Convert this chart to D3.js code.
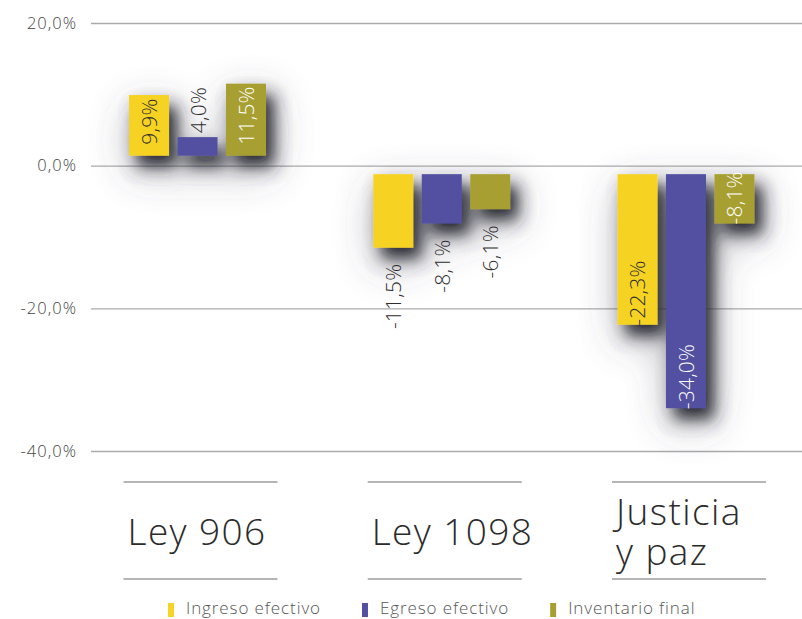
<!DOCTYPE html>
<html>
<head>
<meta charset="utf-8">
<script src="https://cdn.jsdelivr.net/npm/d3@7"></script>
<style>
  html, body { margin: 0; padding: 0; background: #fff; }
  svg { display: block; font-family: "Open Sans", Lato, sans-serif; }
</style>
</head>
<body>
<div id="chart"></div>
<script>
// data
const categories = ["Ley 906", "Ley 1098", "Justicia y paz"];
const categoryLines = [["Ley 906"], ["Ley 1098"], ["Justicia", "y paz"]];
const seriesNames = ["Ingreso efectivo", "Egreso efectivo", "Inventario final"];
const ingreso = [0.099, -0.115, -0.223];
const egreso = [0.040, -0.081, -0.340];
const inventario = [0.115, -0.061, -0.081];
const yTicks = [0.2, 0, -0.2, -0.4];
// label inside/outside the bar, per category then series
const labelPlace = [["in", "out", "in"], ["out", "out", "out"], ["in", "in", "in"]];

const colors = ["#f6d324", "#5250a1", "#a79f32"];
const DARK = "#2e2e2e", LIGHT = "#ffffff";

const width = 802, height = 619;
const GAP_POS = 10, GAP_NEG = 8.5; // bars float a little off the zero line

const locale = d3.formatLocale({ decimal: ",", thousands: ".", grouping: [3], currency: ["", ""], minus: "-" });
const fmt = locale.format(".1%");

const svg = d3.select("#chart").append("svg")
  .attr("width", width)
  .attr("height", height);

const defs = svg.append("defs");
const f = defs.append("filter").attr("id", "shadow")
  .attr("x", "-80%").attr("y", "-80%").attr("width", "260%").attr("height", "260%");
f.append("feGaussianBlur").attr("in", "SourceAlpha").attr("stdDeviation", 20).attr("result", "b2");
f.append("feOffset").attr("in", "b2").attr("dx", 4).attr("dy", 14).attr("result", "o2");
f.append("feFlood").attr("flood-color", "#4a4a58").attr("flood-opacity", 0.5).attr("result", "c2");
f.append("feComposite").attr("in", "c2").attr("in2", "o2").attr("operator", "in").attr("result", "s2");
f.append("feGaussianBlur").attr("in", "SourceAlpha").attr("stdDeviation", 8).attr("result", "b1");
f.append("feOffset").attr("in", "b1").attr("dx", 8).attr("dy", 11).attr("result", "o1");
f.append("feFlood").attr("flood-color", "#262630").attr("flood-opacity", 0.95).attr("result", "c1");
f.append("feComposite").attr("in", "c1").attr("in2", "o1").attr("operator", "in").attr("result", "s1");
const merge = f.append("feMerge");
merge.append("feMergeNode").attr("in", "s2");
merge.append("feMergeNode").attr("in", "s1");
merge.append("feMergeNode").attr("in", "SourceGraphic");

const y = d3.scaleLinear().domain([-0.4, 0.2]).range([451, 23]);

const x0 = d3.scaleBand().domain(categories).range([75.4, 808.1]).padding(0);
const x1 = d3.scaleBand().domain(seriesNames)
  .range([x0.bandwidth() / 2 - 68.5, x0.bandwidth() / 2 + 68.5])
  .paddingInner(0.175).paddingOuter(0);

// gridlines + y labels
const yAxis = d3.axisLeft(y)
  .tickValues(yTicks)
  .tickFormat(fmt)
  .tickSize(711)
  .tickPadding(14);

const ga = svg.append("g")
  .attr("transform", `translate(${width},0)`)
  .call(yAxis);
ga.select(".domain").remove();
ga.selectAll(".tick line").attr("stroke", "#ababab").attr("stroke-width", 1.3);
ga.selectAll(".tick text")
  .attr("fill", "#444")
  .style("font-size", "16.5px")
  .style("letter-spacing", "1px")
  .style("font-weight", 300)
  .style("font-family", "'Open Sans', sans-serif");

const values = [ingreso, egreso, inventario];
const rows = categories.map((c, ci) => ({
  cat: c,
  ci,
  bars: seriesNames.map((s, si) => ({ s, si, v: values[si][ci], place: labelPlace[ci][si] }))
}));

const groups = svg.selectAll(".grp").data(rows).enter().append("g")
  .attr("class", "grp")
  .attr("transform", d => `translate(${x0(d.cat)},0)`);

const barTop = d => d.v >= 0 ? y(d.v) : y(0) + GAP_NEG;
const barBot = d => d.v >= 0 ? y(0) - GAP_POS : y(d.v);

groups.append("g")
  .attr("filter", "url(#shadow)")
  .selectAll("rect").data(d => d.bars).enter().append("rect")
  .attr("x", d => x1(d.s))
  .attr("width", x1.bandwidth())
  .attr("y", barTop)
  .attr("height", d => barBot(d) - barTop(d))
  .attr("fill", d => colors[d.si]);

groups.selectAll(".val").data(d => d.bars).enter().append("text")
  .attr("class", "val")
  .attr("transform", d => {
    const cx = x1(d.s) + x1.bandwidth() / 2;
    let yy;
    if (d.v >= 0) yy = d.place === "in" ? barBot(d) - 11 : barTop(d) - 4;
    else yy = d.place === "in" ? barBot(d) + 1 : barBot(d) + 16;
    return `translate(${cx},${yy}) rotate(-90)`;
  })
  .attr("text-anchor", d => (d.v < 0 && d.place === "out") ? "end" : "start")
  .attr("dominant-baseline", "central")
  .attr("fill", d => (d.place === "in" && d.si > 0) ? LIGHT : DARK)
  .style("font-size", "21px")
  .style("letter-spacing", "0.2px")
  .style("font-weight", 300)
  .text(d => fmt(d.v));

// category labels between two rules
const lineY1 = 482, lineY2 = 579, mid = (lineY1 + lineY2) / 2;
const lab = svg.selectAll(".cat").data(rows).enter().append("g")
  .attr("class", "cat")
  .attr("transform", d => `translate(${x0(d.cat) + x0.bandwidth() / 2 + 3},0)`);
lab.append("line").attr("x1", -77).attr("x2", 77).attr("y1", lineY1).attr("y2", lineY1)
  .attr("stroke", "#9c9c9c").attr("stroke-width", 1.3);
lab.append("line").attr("x1", -77).attr("x2", 77).attr("y1", lineY2).attr("y2", lineY2)
  .attr("stroke", "#9c9c9c").attr("stroke-width", 1.3);
lab.each(function (d) {
  const lines = categoryLines[d.ci];
  const t = d3.select(this).append("text")
    .attr("fill", "#2b2b2b")
    .style("font-size", "37px")
    .style("letter-spacing", "1.4px")
    .style("font-weight", 300);
  lines.forEach((ln, i) => {
    t.append("tspan")
      .attr("x", -73)
      .attr("y", mid + 14 - (lines.length - 1) * 20 + i * 40)
      .text(ln);
  });
});

// legend
const legend = svg.append("g").attr("transform", "translate(168,0)");
let lx = 0;
seriesNames.forEach((s, i) => {
  const it = legend.append("g").attr("transform", `translate(${lx},0)`);
  it.append("rect").attr("x", 0).attr("y", 603).attr("width", 6).attr("height", 14).attr("fill", colors[i]);
  const tx = it.append("text").attr("x", 18).attr("y", 614)
    .attr("fill", "#555")
    .style("font-size", "17px")
    .style("letter-spacing", "0.9px")
    .style("font-weight", 300)
    .text(s);
  lx += 18 + tx.node().getComputedTextLength() + 41;
});
</script>
</body>
</html>
